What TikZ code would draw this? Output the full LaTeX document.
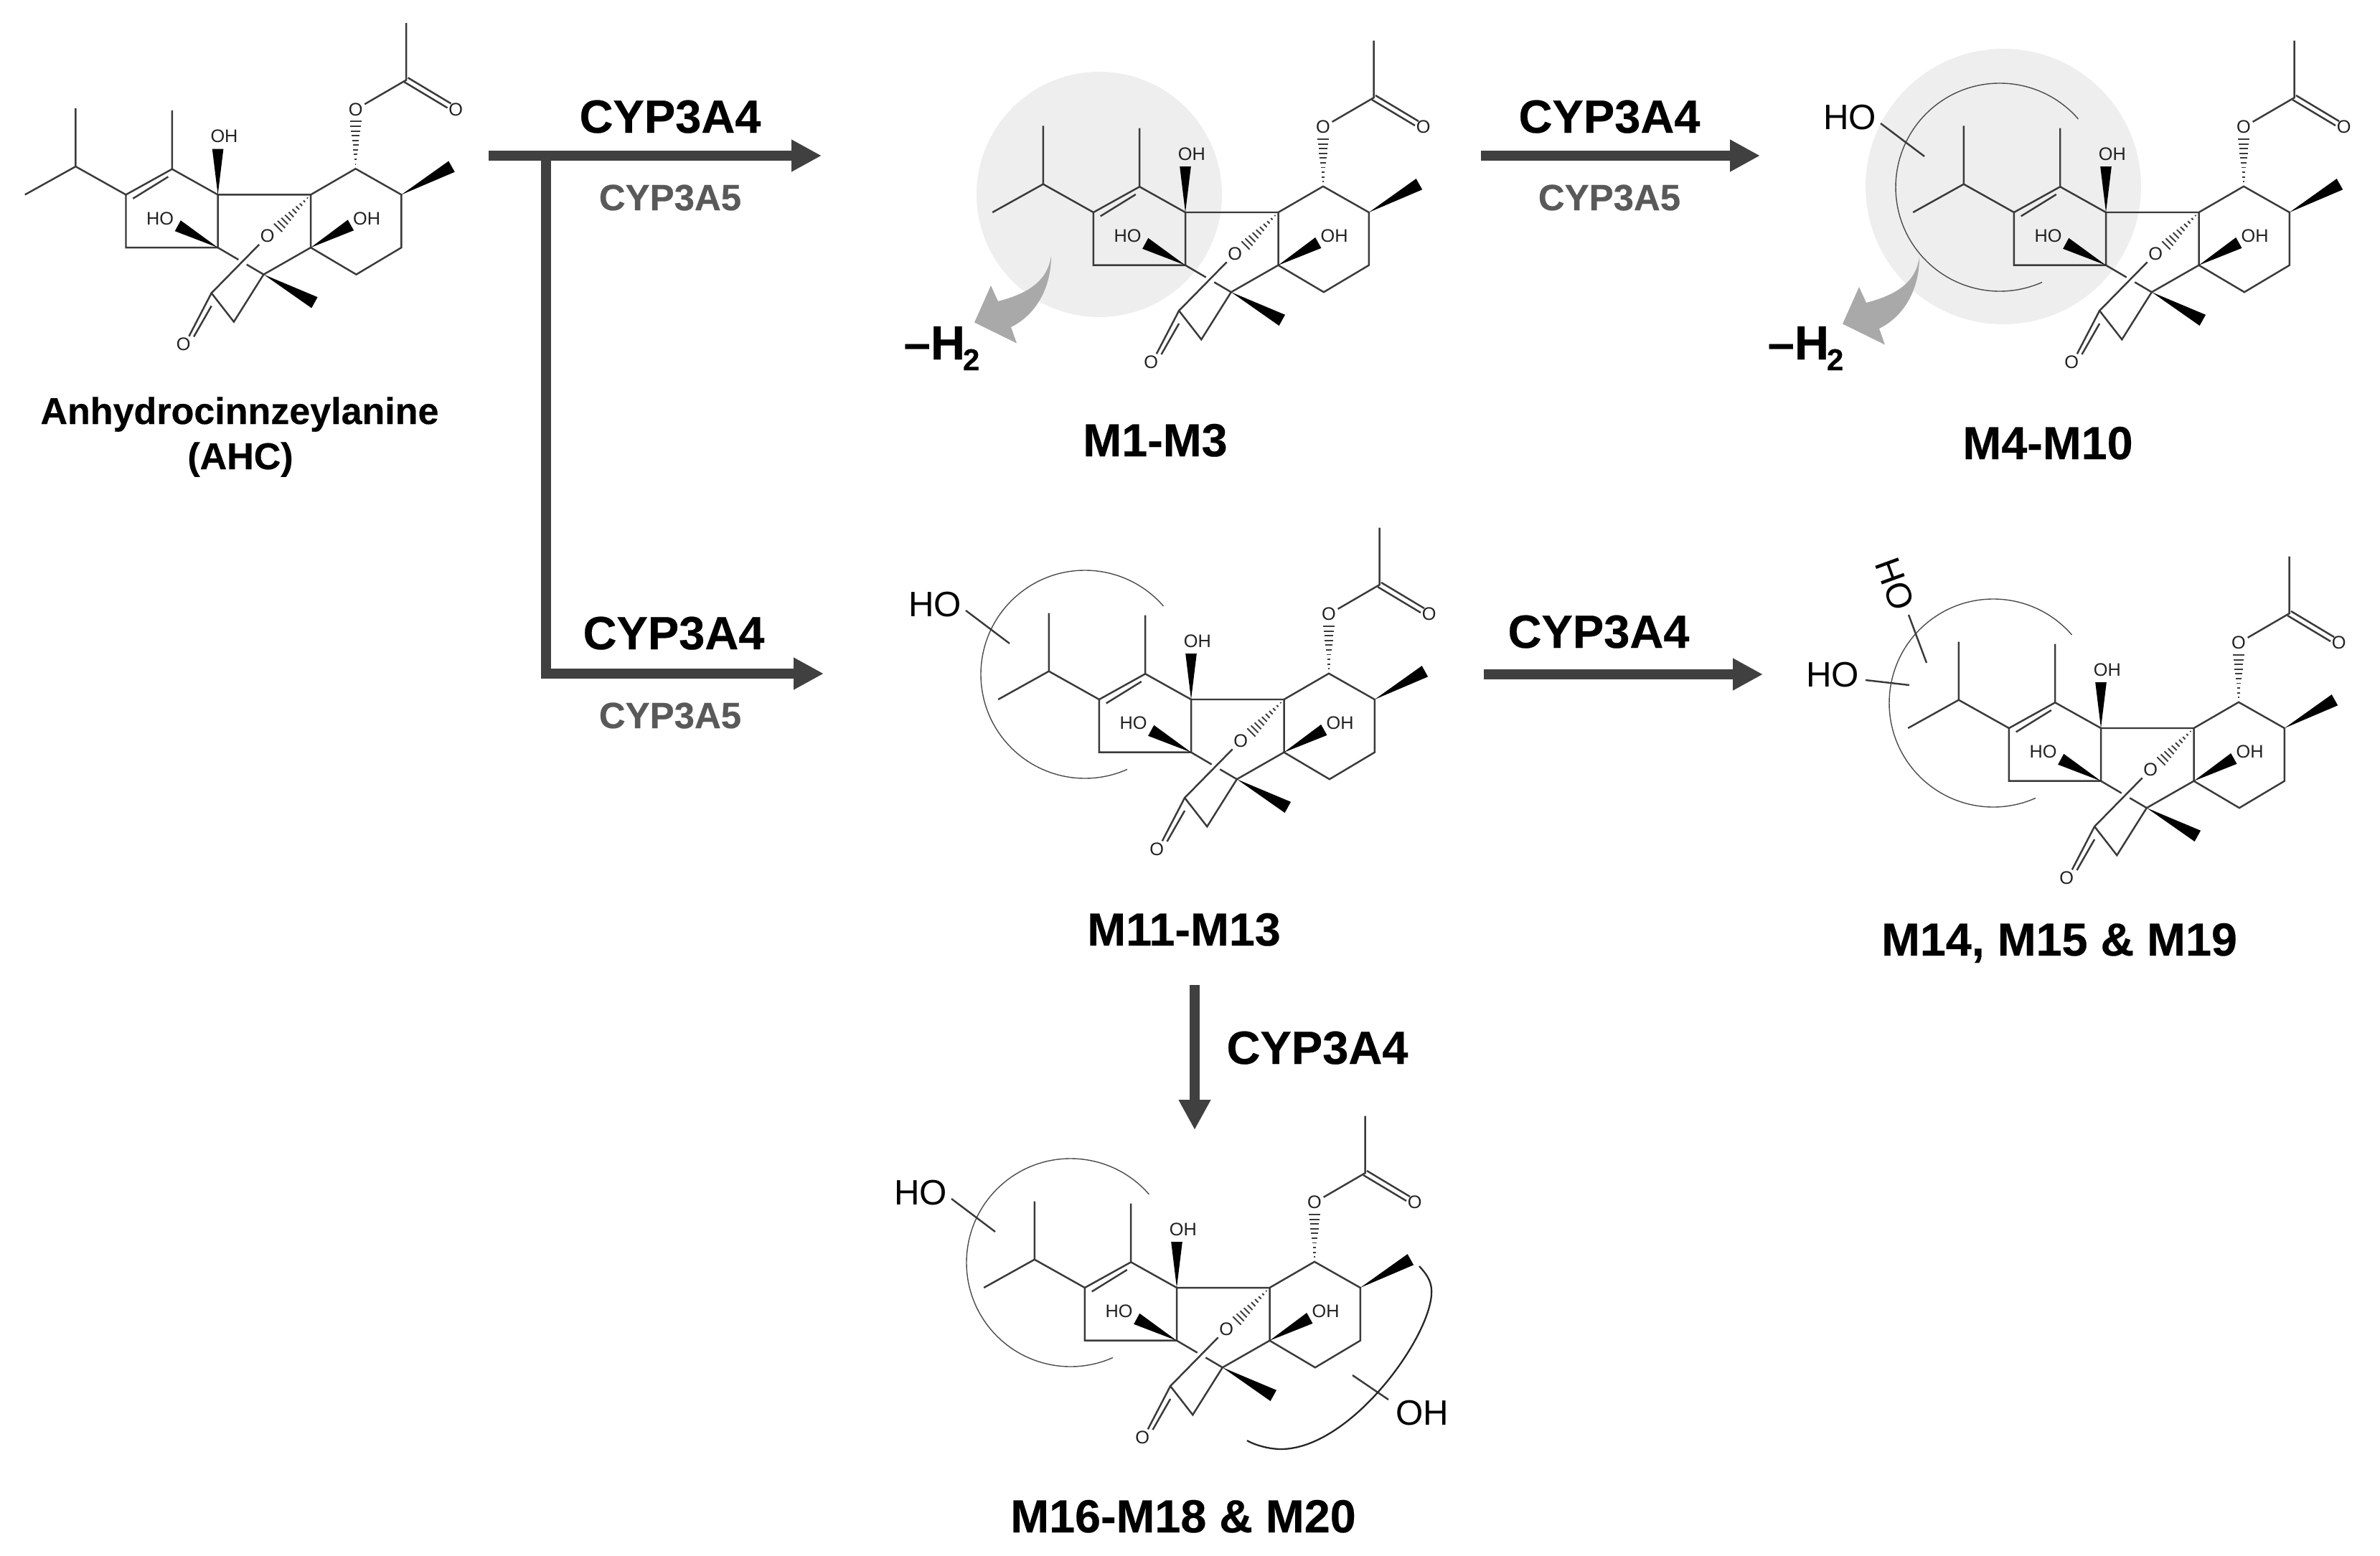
\documentclass[tikz,border=0pt]{standalone}
\usepackage{fontspec}
\setmainfont{Liberation Sans}[BoldFeatures={FakeBold=.35}]
\usetikzlibrary{calc,arrows.meta}
\definecolor{arrowgrey}{HTML}{404040}
\definecolor{bondgrey}{HTML}{3A3A3A}
\definecolor{atomgrey}{HTML}{222222}
\definecolor{fivegrey}{HTML}{595959}
\definecolor{curlgrey}{HTML}{A9A9A9}
\definecolor{spotgrey}{HTML}{EEEEEE}
\tikzset{
  bond/.style={draw=bondgrey, line width=.7pt},
  atom/.style={font=\fontsize{7.2}{8}\selectfont, text=atomgrey, inner sep=.6pt},
  subst/.style={font=\fontsize{14}{15}\selectfont, text=black, inner sep=0pt},
  ringarc/.style={draw=black!70, line width=.4pt},
  flow/.style={draw=arrowgrey, line width=.14cm, miter limit=10, -{Triangle[length=.42cm,width=.42cm,fill=arrowgrey]}},
  enzyme/.style={font=\bfseries\fontsize{18.5}{20}\selectfont, anchor=base, inner sep=0pt},
  enzymeb/.style={font=\bfseries\fontsize{14.5}{16}\selectfont, text=fivegrey, anchor=base, inner sep=0pt},
  metab/.style={font=\bfseries\fontsize{18.4}{20}\selectfont, anchor=base, inner sep=0pt},
  metaba/.style={font=\bfseries\fontsize{14.8}{17}\selectfont, anchor=base, inner sep=0pt},
}
\newcommand{\wedgebond}[3]{\fill[black] (#1) -- ($(#2)!#3!90:(#1)$) -- ($(#2)!#3!-90:(#1)$) -- cycle;}
\newcommand{\hashbond}[3]{\foreach \t in {.1,.2,...,1.01} \draw[bondgrey, line width=.55pt] ($(#1)!\t!(#2)!\t*#3!90:(#1)$) -- ($(#1)!\t!(#2)!\t*#3!-90:(#1)$);}
\newcommand{\molecule}[2]{
\begin{scope}[shift={(#1,-#2)}]
\coordinate (mea) at (-1.982,1.205);
\coordinate (chi) at (-1.982,.393);
\coordinate (mel) at (-2.688,0);
\coordinate (c3) at (-1.281,0);
\coordinate (c4) at (-.638,.357);
\coordinate (me4) at (-.638,1.174);
\coordinate (c5) at (0,0);
\coordinate (c6) at (1.295,0);
\coordinate (c7) at (1.92,.362);
\coordinate (c8) at (2.558,0);
\coordinate (me8) at (3.259,.393);
\coordinate (c9) at (2.558,-.737);
\coordinate (c10) at (1.929,-1.112);
\coordinate (c11) at (1.295,-.737);
\coordinate (c12) at (.638,-1.112);
\coordinate (c13) at (0,-.737);
\coordinate (c14) at (-1.281,-.737);
\coordinate (c15) at (-.089,-1.371);
\coordinate (c16) at (.223,-1.772);
\coordinate (me12) at (1.348,-1.504);
\coordinate (cac) at (2.625,1.598);
\coordinate (meac) at (2.625,2.393);
\coordinate (wo5) at (0,.638);
\coordinate (wo13) at (-.558,-.433);
\coordinate (wo11) at (1.853,-.424);
\coordinate (ho7) at (1.92,1.02);
\coordinate (ho6) at (.84,-.46);
\node[atom] (ring) at (.692,-.576) {O};
\node[atom] (o7) at (1.92,1.188) {O};
\node[atom] (oac) at (3.317,1.188) {O};
\node[atom] (oc) at (-.478,-2.085) {O};
\node[atom] at (.089,.817) {OH};
\node[atom] at (-.804,-.33) {HO};
\node[atom] at (2.076,-.33) {OH};
\draw[bond] (mea) -- (chi) -- (mel) (chi) -- (c3) -- (c4) -- (me4) (c4) -- (c5) -- (c6) -- (c7) -- (c8) -- (c9) -- (c10) -- (c11) -- (c6);
\draw[bond] (c3) -- (c14) -- (c13) -- (c5) (c11) -- (c12) -- (c16) -- (c15) -- (ring);
\draw[bond] (c13) -- ($(c13)!.45!(c12)$) ($(c13)!.63!(c12)$) -- (c12);
\draw[bond] (o7) -- (cac) -- (meac);
\draw[bond] (-1.183,-.054) -- (-.692,.25);
\draw[bond] (2.6,1.57) -- (3.2,1.21) (2.65,1.63) -- (3.25,1.27);
\draw[bond] (-.089,-1.371) -- (-.402,-1.973) (-.089,-1.55) -- (-.335,-1.98);
\wedgebond{c5}{wo5}{.078cm}
\wedgebond{c13}{wo13}{.085cm}
\wedgebond{c11}{wo11}{.085cm}
\wedgebond{c8}{me8}{.087cm}
\wedgebond{c12}{me12}{.087cm}
\hashbond{c7}{ho7}{.08cm}
\hashbond{c6}{ho6}{.08cm}
\end{scope}}
\newcommand{\hoarc}[2]{
\begin{scope}[shift={(#1,-#2)}]
\coordinate (cen) at (-1.48,.35);
\draw[ringarc] ([shift=(41:1.45)]cen) arc[start angle=41,end angle=294,radius=1.45];
\coordinate (hoa) at (-3.14,1.24);
\coordinate (hob) at (-2.53,.78);
\draw[bond] (hoa) -- (hob);
\node[subst] at (-3.57,1.32) {HO};
\end{scope}}
\newcommand{\curl}[2]{
\fill[curlgrey, shift={(#1,-#2)}] (0,0) .. controls (0,-.5) and (-.25,-.85) .. (-.56,-1) -- (-.48,-1.225) -- (-1.07,-.935) -- (-.84,-.42) -- (-.74,-.64) .. controls (-.4,-.55) and (-.05,-.4) .. cycle;}
\newcommand{\lossH}{{\bfseries\fontsize{19}{20}\selectfont --H}\kern-.9pt\raisebox{-4.3pt}{\bfseries\fontsize{12}{13}\selectfont 2}}
\begin{document}
\begin{tikzpicture}
\useasboundingbox (0,0) rectangle (33.17,-21.68);
\fill[spotgrey] (15.32,-2.71) circle (1.71);
\fill[spotgrey] (27.92,-2.60) circle (1.92);
\molecule{3.036}{2.714}
\molecule{16.52}{2.96}
\molecule{29.35}{2.96}
\molecule{16.60}{9.75}
\molecule{29.28}{10.15}
\molecule{16.40}{17.95}
\hoarc{29.35}{2.96}
\hoarc{16.60}{9.75}
\hoarc{16.40}{17.95}
\coordinate (cen) at (27.78,-9.80);
\draw[ringarc] ([shift=(41:1.45)]cen) arc[start angle=41,end angle=294,radius=1.45];
\coordinate (m14a) at (26.00,-9.48);
\coordinate (m14b) at (26.61,-9.55);
\coordinate (m14c) at (26.60,-8.57);
\coordinate (m14d) at (26.85,-9.24);
\draw[bond] (m14a) -- (m14b) (m14c) -- (m14d);
\node[subst] at (25.54,-9.41) {HO};
\node[subst, rotate=-70] at (26.41,-8.14) {HO};
\coordinate (oha) at (18.85,-19.17);
\coordinate (ohb) at (19.35,-19.51);
\draw[bond] (oha) -- (ohb);
\node[subst] at (19.82,-19.70) {OH};
\draw[draw=black!85, line width=.65pt] (19.78,-17.65) .. controls (19.92,-17.80) and (19.96,-17.90) .. (19.95,-18.05) .. controls (19.90,-18.70) and (18.80,-20.20) .. (17.85,-20.20) .. controls (17.70,-20.20) and (17.50,-20.15) .. (17.38,-20.08);
\curl{14.65}{3.56}
\curl{26.75}{3.58}
\node[anchor=base west, inner sep=0pt] at (12.59,-5.01) {\lossH};
\node[anchor=base west, inner sep=0pt] at (24.63,-5.01) {\lossH};
\coordinate (sa) at (6.81,-2.17);
\coordinate (sb) at (7.61,-2.17);
\coordinate (ea) at (11.45,-2.17);
\coordinate (eb) at (11.48,-9.39);
\coordinate (kb) at (7.61,-9.39);
\draw[flow] (sa) -- (ea);
\draw[flow] (sb) -- (kb) -- (eb);
\coordinate (ra) at (20.64,-2.17);
\coordinate (rb) at (24.53,-2.17);
\draw[flow] (ra) -- (rb);
\coordinate (rc) at (20.68,-9.40);
\coordinate (rd) at (24.57,-9.40);
\draw[flow] (rc) -- (rd);
\coordinate (da) at (16.65,-13.73);
\coordinate (db) at (16.65,-15.75);
\draw[flow] (da) -- (db);
\node[enzyme] at (9.34,-1.85) {CYP3A4};
\node[enzymeb] at (9.34,-2.93) {CYP3A5};
\node[enzyme] at (9.39,-9.05) {CYP3A4};
\node[enzymeb] at (9.34,-10.15) {CYP3A5};
\node[enzyme] at (22.43,-1.85) {CYP3A4};
\node[enzymeb] at (22.43,-2.93) {CYP3A5};
\node[enzyme] at (22.28,-9.03) {CYP3A4};
\node[enzyme] at (18.36,-14.83) {CYP3A4};
\node[metaba] at (3.34,-5.91) {Anhydrocinnzeylanine};
\node[metaba] at (3.35,-6.54) {(AHC)};
\node[metab] at (16.10,-6.36) {M1-M3};
\node[metab] at (28.54,-6.40) {M4-M10};
\node[metab] at (16.50,-13.18) {M11-M13};
\node[metab] at (28.70,-13.32) {M14, M15 \& M19};
\node[metab] at (16.49,-21.36) {M16-M18 \& M20};
\end{tikzpicture}
\end{document}
